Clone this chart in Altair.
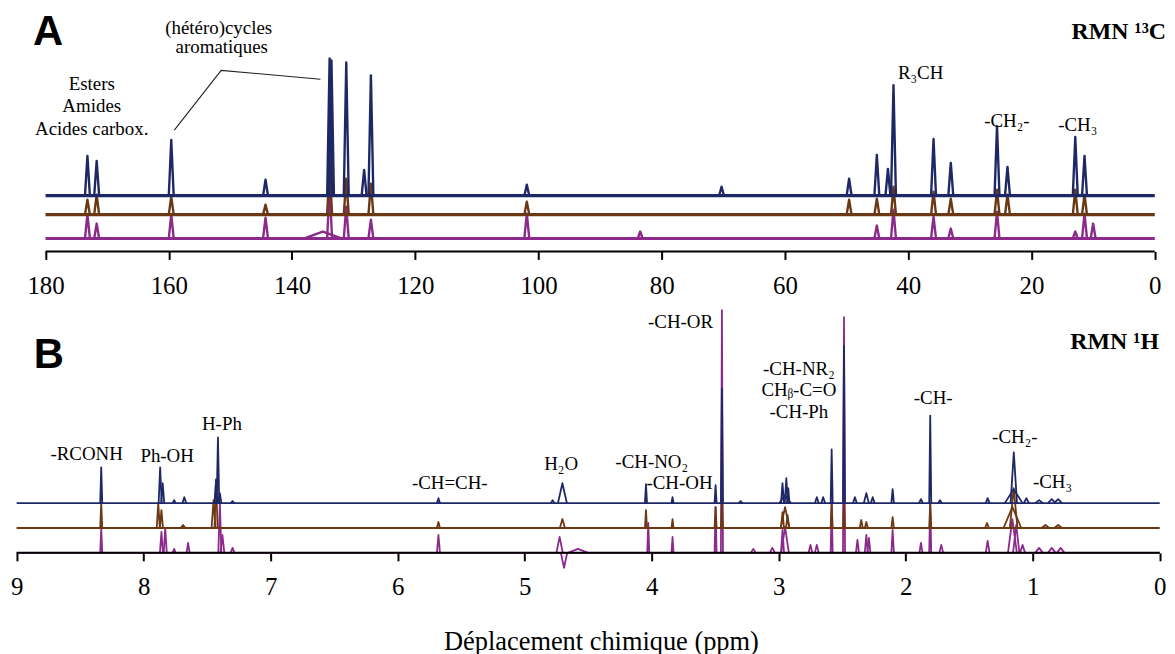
import altair as alt
import pandas as pd

# ---------------- axis ticks ----------------
C13_TICKS = [180, 160, 140, 120, 100, 80, 60, 40, 20, 0]
H1_TICKS = [9, 8, 7, 6, 5, 4, 3, 2, 1, 0]

# ---------------- 13C spectra (ppm, peak top in a.u., half width in ppm) ----------------
C13_BASE = {"navy": 56, "brown": 37, "purple": 13}

C13_NAVY_PPM = [173.2, 171.7, 159.6, 144.3, 133.9, 133.6, 131.2, 128.3, 127.2, 101.9, 70.3,
                49.6, 45.1, 43.3, 42.4, 35.9, 33.1, 25.6, 23.9, 12.9, 11.4]
C13_NAVY_TOP = [96, 91, 112, 72, 194, 192, 190, 82, 177, 67, 65,
                73, 97, 83, 167, 113, 89, 126, 85, 115, 96]
C13_NAVY_HW = [0.4] * 21

C13_BROWN_PPM = [173.2, 171.7, 159.6, 144.3, 133.9, 131.2, 127.2, 101.9, 49.6, 45.1, 42.4,
                 35.9, 33.1, 25.6, 23.9, 12.9, 11.4]
C13_BROWN_TOP = [52, 57, 55, 47, 88, 73, 68, 50, 52, 53, 65,
                 60, 53, 62, 57, 62, 57]
C13_BROWN_HW = [0.4] * 17

C13_PURPLE_PPM = [173.2, 171.7, 159.6, 144.3, 135.0, 133.9, 131.2, 127.2, 101.9, 83.5, 45.1,
                  42.4, 35.9, 33.1, 25.6, 12.9, 11.4, 10.0]
C13_PURPLE_TOP = [37, 28, 37, 34, 20, 65, 45, 32, 38, 20, 26,
                  42, 35, 23, 40, 20, 38, 28]
C13_PURPLE_HW = [0.4, 0.4, 0.4, 0.4, 3.0, 0.4, 0.4, 0.4, 0.4, 0.4, 0.4,
                 0.4, 0.4, 0.4, 0.4, 0.4, 0.4, 0.4]

# ---------------- 1H spectra ----------------
H1_BASE = {"navy": 50, "brown": 25, "purple": 0}

H1_NAVY_PPM = [8.334, 7.87, 7.85, 7.76, 7.68, 7.43, 7.415, 7.40, 7.30, 5.679, 4.78, 4.703,
               4.045, 3.836, 3.497, 3.447, 3.30, 2.95, 2.97, 2.94, 2.925, 2.70, 2.65, 2.583,
               2.486, 2.40, 2.31, 2.26, 2.103, 1.88, 1.807, 1.73, 1.355, 1.15, 1.149, 1.05,
               0.95, 0.85, 0.80]
H1_NAVY_TOP = [86, 86, 70, 53, 56, 73, 116, 60, 52, 55, 53, 70,
               69, 56, 68, 165, 52, 58, 70, 75, 65, 56, 56, 104,
               208, 56, 60, 56, 64, 54, 138, 53, 55, 64, 101, 55,
               53, 54, 54]
H1_NAVY_HW = [0.008, 0.012, 0.012, 0.012, 0.015, 0.012, 0.01, 0.012, 0.015, 0.012, 0.015, 0.035,
              0.008, 0.008, 0.008, 0.008, 0.015, 0.045, 0.012, 0.012, 0.01, 0.015, 0.015, 0.008,
              0.008, 0.015, 0.02, 0.015, 0.01, 0.015, 0.008, 0.015, 0.015, 0.07, 0.025, 0.02,
              0.03, 0.03, 0.03]

H1_BROWN_PPM = [8.334, 7.885, 7.86, 7.69, 7.45, 7.43, 5.679, 4.703, 4.045, 3.836, 3.497, 3.447,
                2.97, 2.95, 2.93, 2.583, 2.486, 2.35, 2.31, 2.103, 1.807, 1.36, 1.16, 1.15,
                0.9, 0.8]
H1_BROWN_TOP = [50, 50, 43, 28, 53, 74, 31, 34, 43, 34, 46, 50,
                41, 46, 38, 50, 50, 33, 31, 36, 50, 30, 46, 65,
                28, 28]
H1_BROWN_HW = [0.008, 0.012, 0.012, 0.02, 0.015, 0.012, 0.012, 0.02, 0.008, 0.008, 0.008, 0.008,
               0.012, 0.035, 0.012, 0.008, 0.008, 0.012, 0.012, 0.01, 0.008, 0.015, 0.07, 0.03,
               0.03, 0.03]

H1_PURPLE_PPM = [8.334, 7.86, 7.83, 7.76, 7.65, 7.40, 7.38, 7.30, 5.679, 4.725, 4.69, 4.58,
                 4.027, 3.836, 3.497, 3.447, 3.2, 3.05, 2.97, 2.95, 2.75, 2.70, 2.583, 2.486,
                 2.38, 2.31, 2.29, 2.103, 1.88, 1.807, 1.72, 1.355, 1.16, 1.13, 1.08, 0.95,
                 0.85, 0.78]
H1_PURPLE_TOP = [25, 21, 25, 4, 10, 50, 18, 5, 18, 16, -15, 4,
                 30, 16, 46, 244, 4, 5, 23, 26, 8, 8, 50, 237,
                 13, 18, 15, 23, 10, 50, 8, 12, 34, 28, 8, 5,
                 5, 5]
H1_PURPLE_HW = [0.008, 0.012, 0.012, 0.012, 0.012, 0.012, 0.015, 0.015, 0.012, 0.025, 0.025, 0.08,
                0.008, 0.008, 0.008, 0.008, 0.02, 0.02, 0.012, 0.03, 0.015, 0.015, 0.008, 0.008,
                0.012, 0.012, 0.012, 0.01, 0.012, 0.008, 0.015, 0.015, 0.035, 0.025, 0.02, 0.03,
                0.03, 0.03]

# ---------------- annotations ----------------
C13_LABELS = ["(hétéro)cycles", "aromatiques", "Esters", "Amides", "Acides carbox.",
              "R₃CH", "-CH₂-", "-CH₃"]
C13_LABEL_PPM = [151.9, 151.4, 172.5, 172.5, 172.5, 38.0, 24.0, 12.5]
C13_LABEL_Y = [219, 199, 162, 140, 117, 173, 125, 121]
C13_LEADER_PPM = [159.1, 151.5, 135.4]
C13_LEADER_Y = [122, 182, 173]

H1_LABELS = ["-RCONH", "Ph-OH", "H-Ph", "-CH=CH-", "H₂O", "-CH-NO₂", "-CH-OH", "-CH-OR",
             "-CH-NR₂", "CHᵦ-C=O", "-CH-Ph", "-CH-", "-CH₂-", "-CH₃"]
H1_LABEL_PPM = [8.449, 7.815, 7.384, 5.59, 4.713, 4.0, 3.781, 3.773,
                2.841, 2.841, 2.841, 1.784, 1.141, 0.844]
H1_LABEL_Y = [93, 91, 123, 64, 83, 85, 64, 226, 179, 158, 136, 150, 110, 65]

PANEL_TITLES = ["A", "B"]
PANEL_TITLE_PPM = [179.6, 8.747]
PANEL_TITLE_Y = [207, 186]
NUCLEUS = ["RMN ¹³C", "RMN ¹H"]
NUCLEUS_PPM = [-1.83, 0.006]
NUCLEUS_Y = [214, 205]

NAVY, BROWN, PURPLE = "#1f2866", "#6b3814", "#8c2a8c"
SERIF = "Liberation Serif"

W = 1162
H_TOP, H_BOT = 237, 253
DOM_TOP = [-1.50, 186.09]
DOM_BOT = [-0.0337, 9.068]


def peak_table(ppm, top, hw, base):
    rows = []
    for i, (p, t, w) in enumerate(zip(ppm, top, hw)):
        rows.append({"x": p + w, "y": base, "pk": i, "o": 0})
        rows.append({"x": p, "y": t, "pk": i, "o": 1})
        rows.append({"x": p - w, "y": base, "pk": i, "o": 2})
    return pd.DataFrame(rows)


def panel(dom, ticks, H, traces, labels, panel_idx, leader=None, title=None, sw=2.0, bw=2.0):
    X = alt.X("x:Q", scale=alt.Scale(domain=dom, reverse=True, nice=False, zero=False),
              axis=alt.Axis(values=ticks, format="d", title=title, titlePadding=29,
                            titleX=596, titleAlign="center",
                            labelFont=SERIF, labelFontSize=25, labelColor="black",
                            titleFont=SERIF, titleFontSize=26.5, titleFontWeight="normal",
                            titleColor="black"))
    Y = alt.Y("y:Q", scale=alt.Scale(domain=[0, H], nice=False, zero=False), axis=None)
    layers = []
    for (ppm, top, hw, base, col) in traces:
        bl = pd.DataFrame({"x": [max(ticks)], "x2": [min(ticks)], "y": [base]})
        layers.append(alt.Chart(bl).mark_rule(color=col, strokeWidth=bw).encode(x=X, x2="x2:Q", y=Y))
        layers.append(alt.Chart(peak_table(ppm, top, hw, base)).mark_line(
            color=col, strokeWidth=sw, strokeJoin="round").encode(
            x=X, y=Y, detail="pk:N", order="o:Q"))
    dl = pd.DataFrame({"x": [max(ticks)], "x2": [min(ticks)], "y": [0]})
    layers.append(alt.Chart(dl).mark_rule(color="black", strokeWidth=2).encode(x=X, x2="x2:Q", y=Y))
    if leader is not None:
        ld = pd.DataFrame({"x": leader[0], "y": leader[1], "o": list(range(len(leader[0])))})
        layers.append(alt.Chart(ld).mark_line(color="#222222", strokeWidth=1.1).encode(
            x=X, y=Y, order="o:Q"))
    ann = pd.DataFrame({"x": labels[1], "y": labels[2], "t": labels[0]})
    layers.append(alt.Chart(ann).mark_text(font=SERIF, fontSize=19, color="black",
                                           align="center", baseline="alphabetic").encode(
        x=X, y=Y, text="t:N"))
    pt = pd.DataFrame({"x": [PANEL_TITLE_PPM[panel_idx]], "y": [PANEL_TITLE_Y[panel_idx]],
                       "t": [PANEL_TITLES[panel_idx]]})
    layers.append(alt.Chart(pt).mark_text(font="Liberation Sans", fontSize=42, fontWeight="bold",
                                          color="black", align="center", baseline="alphabetic").encode(
        x=X, y=Y, text="t:N"))
    nu = pd.DataFrame({"x": [NUCLEUS_PPM[panel_idx]], "y": [NUCLEUS_Y[panel_idx]],
                       "t": [NUCLEUS[panel_idx]]})
    layers.append(alt.Chart(nu).mark_text(font=SERIF, fontSize=24, fontWeight="bold",
                                          color="black", align="right", baseline="alphabetic").encode(
        x=X, y=Y, text="t:N"))
    return alt.layer(*layers).properties(width=W, height=H)


top = panel(
    DOM_TOP, C13_TICKS, H_TOP,
    [(C13_PURPLE_PPM, C13_PURPLE_TOP, C13_PURPLE_HW, C13_BASE["purple"], PURPLE),
     (C13_BROWN_PPM, C13_BROWN_TOP, C13_BROWN_HW, C13_BASE["brown"], BROWN),
     (C13_NAVY_PPM, C13_NAVY_TOP, C13_NAVY_HW, C13_BASE["navy"], NAVY)],
    (C13_LABELS, C13_LABEL_PPM, C13_LABEL_Y), 0,
    leader=(C13_LEADER_PPM, C13_LEADER_Y), title=None, sw=2.4, bw=3.2)

bottom = panel(
    DOM_BOT, H1_TICKS, H_BOT,
    [(H1_PURPLE_PPM, H1_PURPLE_TOP, H1_PURPLE_HW, H1_BASE["purple"], PURPLE),
     (H1_BROWN_PPM, H1_BROWN_TOP, H1_BROWN_HW, H1_BASE["brown"], BROWN),
     (H1_NAVY_PPM, H1_NAVY_TOP, H1_NAVY_HW, H1_BASE["navy"], NAVY)],
    (H1_LABELS, H1_LABEL_PPM, H1_LABEL_Y), 1,
    title="Déplacement chimique (ppm)", sw=1.8, bw=1.8)

chart = alt.vconcat(top, bottom, spacing=3).properties(
    padding={"left": 0, "top": 2, "right": 0, "bottom": 0},
    background="white",
).configure_view(stroke=None).configure_axis(
    labelFont=SERIF, labelFontSize=25, labelColor="black",
    tickColor="black", tickWidth=2, tickSize=8, labelPadding=14,
    domain=False, grid=False, labelFlush=False, labelOverlap=False,
    titleFont=SERIF, titleFontSize=26.5, titleFontWeight="normal", titleColor="black",
)

chart.save("out.html", embed_options={"renderer": "svg", "actions": False})
